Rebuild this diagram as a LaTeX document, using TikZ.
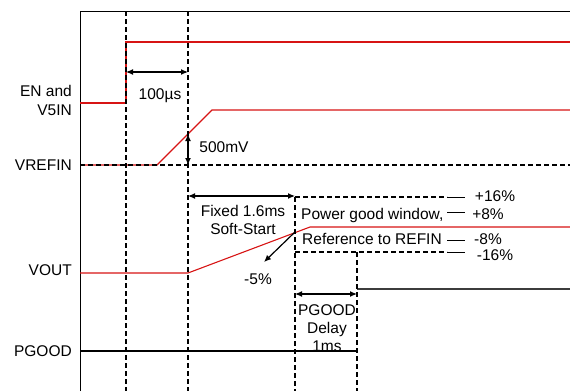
\documentclass[tikz,border=0pt]{standalone}
\usepackage{fontspec}
\setmainfont{Liberation Sans}
\usetikzlibrary{arrows.meta}
\definecolor{sigred}{RGB}{215,20,20}
\definecolor{pgray}{RGB}{60,60,60}
\begin{document}
\begin{tikzpicture}[x=1pt,y=-1pt,
  frame/.style={black, line width=1pt},
  sig/.style={sigred, line width=1.1pt},
  pg/.style={black, line width=1.1pt},
  dashline/.style={black, line width=2pt, dash pattern=on 5pt off 3pt},
  tickline/.style={black, line width=1pt},
  dim/.style={black, line width=1.2pt, {Latex[length=7pt,width=6pt]}-{Latex[length=7pt,width=6pt]}},
  onearrow/.style={black, line width=1.2pt, -{Latex[length=7pt,width=6pt]}},
  lbl/.style={inner sep=0pt, font=\fontsize{15.5}{19}\selectfont},
]
\useasboundingbox (0,0) rectangle (570,391);

% frame
\draw[frame] (80,391) -- (80,11) -- (570,11);

% signals
\draw[sig] (80,103) -- (126,103) -- (126,42) -- (570,42);
\draw[sig] (80,165) -- (157,165) -- (212,110) -- (570,110);
\draw[sig] (80,273) -- (188,273) -- (310,227) -- (570,227);
\draw[pg] (80,351) -- (357,351);
\draw[pg, pgray] (357,289) -- (570,289);

% dashed references
\draw[dashline] (126,11) -- (126,391);
\draw[dashline] (188,11) -- (188,391);
\draw[dashline] (295,197) -- (295,391);
\draw[dashline] (357,252) -- (357,391);
\draw[dashline] (80,165) -- (570,165);
\draw[dashline] (295,197) -- (447,197);
\draw[dashline] (295,252) -- (447,252);

% window ticks
\draw[tickline] (447,197) -- (465,197);
\draw[tickline] (447,212) -- (465,212);
\draw[tickline] (447,240) -- (465,240);
\draw[tickline] (447,252) -- (465,252);

% named coordinates for dimension arrows
\coordinate (a1) at (126,72);  \coordinate (a2) at (188,72);
\coordinate (b1) at (188,134); \coordinate (b2) at (188,165);
\coordinate (c1) at (188,196); \coordinate (c2) at (295,196);
\coordinate (d1) at (295,232); \coordinate (d2) at (264,262);
\coordinate (e1) at (295,294); \coordinate (e2) at (357,294);

\draw[dim] (a1) -- (a2);
\draw[dim] (b1) -- (b2);
\draw[dim] (c1) -- (c2);
\draw[onearrow] (d1) -- (d2);
\draw[dim] (e1) -- (e2);

% left labels
\node[lbl, anchor=base east] (len1) at (72,96) {EN and};
\node[lbl, anchor=base east] (len2) at (72,115) {V5IN};
\node[lbl, anchor=base east] (lvref) at (72,170) {VREFIN};
\node[lbl, anchor=base east] (lvout) at (72,275) {VOUT};
\node[lbl, anchor=base east] (lpg) at (72,356) {PGOOD};

% annotation labels
\node[lbl, anchor=base] (t100) at (160,99) {100µs};
\node[lbl, anchor=base] (t500) at (224,152) {500mV};
\node[lbl, anchor=base] (tfix1) at (243,216) {Fixed 1.6ms};
\node[lbl, anchor=base] (tfix2) at (243,234) {Soft-Start};
\node[lbl, anchor=base] (tm5) at (258,284) {-5\%};
\node[lbl, anchor=base west] (tpgw) at (301,219) {Power good window,};
\node[lbl, anchor=base west] (tref) at (302,244) {Reference to REFIN};
\node[lbl, anchor=base] (tp16) at (495,201) {+16\%};
\node[lbl, anchor=base] (tp8) at (488,219) {+8\%};
\node[lbl, anchor=base] (tm8) at (488,244) {-8\%};
\node[lbl, anchor=base] (tm16) at (495,260) {-16\%};
\node[lbl, anchor=base] (tpd1) at (327,315) {PGOOD};
\node[lbl, anchor=base] (tpd2) at (327,333) {Delay};
\node[lbl, anchor=base] (tpd3) at (327,351) {1ms};
\end{tikzpicture}
\end{document}
